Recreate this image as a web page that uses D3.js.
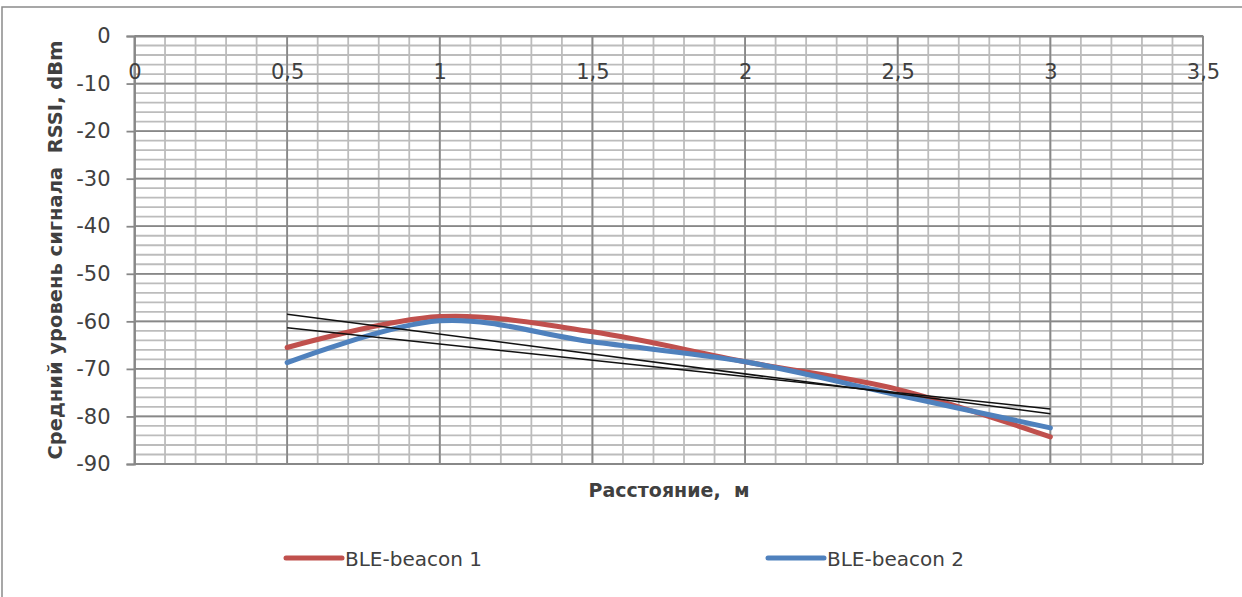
<!DOCTYPE html>
<html>
<head>
<meta charset="utf-8">
<script src="https://cdn.jsdelivr.net/npm/d3@7"></script>
<style>
  html, body { margin: 0; padding: 0; background: #fff; }
  svg { display: block; }
  text { font-family: "DejaVu Sans", sans-serif; fill: #404040; white-space: pre; }
</style>
</head>
<body>
<svg id="chart" width="1242" height="597"></svg>
<script>
// ---- data ----
const distances = [0.5, 1, 1.5, 2, 2.5, 3];
const beacon1 = [-65.5, -59.0, -62.2, -68.5, -74.3, -84.3];
const beacon2 = [-68.7, -59.9, -64.3, -68.5, -75.5, -82.4];
const seriesNames = ["BLE-beacon 1", "BLE-beacon 2"];
const xTicks = [0, 0.5, 1, 1.5, 2, 2.5, 3, 3.5];
const yTicks = [0, -10, -20, -30, -40, -50, -60, -70, -80, -90];
const xTitle = "Расстояние,  м";
const yTitle = "Средний уровень сигнала  RSSI, dBm";

const colors = ["#C0504D", "#4F81BD"];

const svg = d3.select("#chart");
const W = 1242, H = 597;

// outer frame
svg.append("rect").attr("x", 2).attr("y", 7).attr("width", W + 10).attr("height", H + 10)
  .attr("fill", "none").attr("stroke", "#8a8a8a").attr("stroke-width", 1.5);

const x = d3.scaleLinear().domain([0, 3.5]).range([134.5, 1203]);
const y = d3.scaleLinear().domain([0, -90]).range([36, 464]);

// minor grid
const g = svg.append("g");
const minorX = d3.range(0, 36).map(i => i / 10);
const minorY = d3.range(0, 46).map(i => -i * 2);
g.selectAll(".mx").data(minorX).enter().append("line")
  .attr("x1", d => x(d)).attr("x2", d => x(d)).attr("y1", y(0)).attr("y2", y(-90))
  .attr("stroke", "#bcbcbc").attr("stroke-width", 1.8);
g.selectAll(".my").data(minorY).enter().append("line")
  .attr("x1", x(0)).attr("x2", x(3.5)).attr("y1", d => y(d)).attr("y2", d => y(d))
  .attr("stroke", "#bcbcbc").attr("stroke-width", 1.8);
// major grid
g.selectAll(".Mx").data(xTicks).enter().append("line")
  .attr("x1", d => x(d)).attr("x2", d => x(d)).attr("y1", y(0)).attr("y2", y(-90))
  .attr("stroke", "#888").attr("stroke-width", 1.8);
g.selectAll(".My").data(yTicks).enter().append("line")
  .attr("x1", x(0)).attr("x2", x(3.5)).attr("y1", d => y(d)).attr("y2", d => y(d))
  .attr("stroke", "#888").attr("stroke-width", 1.8);

// y axis
const yAxis = d3.axisLeft(y).tickValues(yTicks).tickSize(8).tickPadding(16)
  .tickFormat(d => d3.format("d")(d).replace("−", "-"));
const ya = svg.append("g").attr("transform", `translate(${x(0)},0)`).call(yAxis);
ya.select(".domain").attr("stroke", "#888").attr("stroke-width", 1.8);
ya.selectAll(".tick line").attr("stroke", "#888").attr("stroke-width", 1.8);
ya.selectAll(".tick text").attr("font-size", 21).attr("fill", "#404040")
  .attr("font-family", "DejaVu Sans, sans-serif");

// x axis labels (axis at y = 0)
const xAxis = d3.axisBottom(x).tickValues(xTicks).tickSize(0).tickPadding(28)
  .tickFormat(d => String(d).replace(".", ","));
const xa = svg.append("g").attr("transform", `translate(0,${y(0)})`).call(xAxis);
xa.select(".domain").attr("stroke", "#888").attr("stroke-width", 1.8);
xa.selectAll(".tick text").attr("font-size", 21).attr("fill", "#404040")
  .attr("font-family", "DejaVu Sans, sans-serif");

// series lines
const series = [beacon1, beacon2];
const line = d3.line().x(d => x(d[0])).y(d => y(d[1])).curve(d3.curveCatmullRom.alpha(0.5));
series.forEach((vals, i) => {
  svg.append("path").datum(distances.map((d, j) => [d, vals[j]]))
    .attr("d", line).attr("fill", "none").attr("stroke", colors[i])
    .attr("stroke-width", 5).attr("stroke-linecap", "round").attr("stroke-linejoin", "round");
});

// linear trendlines (least squares of each series)
series.forEach(vals => {
  const mx = d3.mean(distances), my = d3.mean(vals);
  const sxy = d3.sum(distances, (d, j) => (d - mx) * (vals[j] - my));
  const sxx = d3.sum(distances, d => (d - mx) * (d - mx));
  const b = sxy / sxx, a = my - b * mx;
  const x0 = d3.min(distances), x1 = d3.max(distances);
  svg.append("line")
    .attr("x1", x(x0)).attr("y1", y(a + b * x0))
    .attr("x2", x(x1)).attr("y2", y(a + b * x1))
    .attr("stroke", "#111").attr("stroke-width", 1.5);
});

// axis titles
svg.append("text").attr("x", 669).attr("y", 497).attr("text-anchor", "middle")
  .attr("font-size", 19).attr("font-weight", "bold").attr("fill", "#111").text(xTitle);
svg.append("text").attr("transform", `translate(62,250) rotate(-90)`).attr("text-anchor", "middle")
  .attr("font-size", 19.5).attr("font-weight", "bold").attr("fill", "#111").text(yTitle);

// legend
const legendX = [286, 768];
seriesNames.forEach((name, i) => {
  const lg = svg.append("g").attr("transform", `translate(${legendX[i]},558)`);
  lg.append("line").attr("x1", 0).attr("x2", 56).attr("y1", 0).attr("y2", 0)
    .attr("stroke", colors[i]).attr("stroke-width", 5).attr("stroke-linecap", "round");
  lg.append("text").attr("x", 59).attr("y", 8).attr("font-size", 20)
    .attr("fill", "#404040").text(name);
});
</script>
</body>
</html>
